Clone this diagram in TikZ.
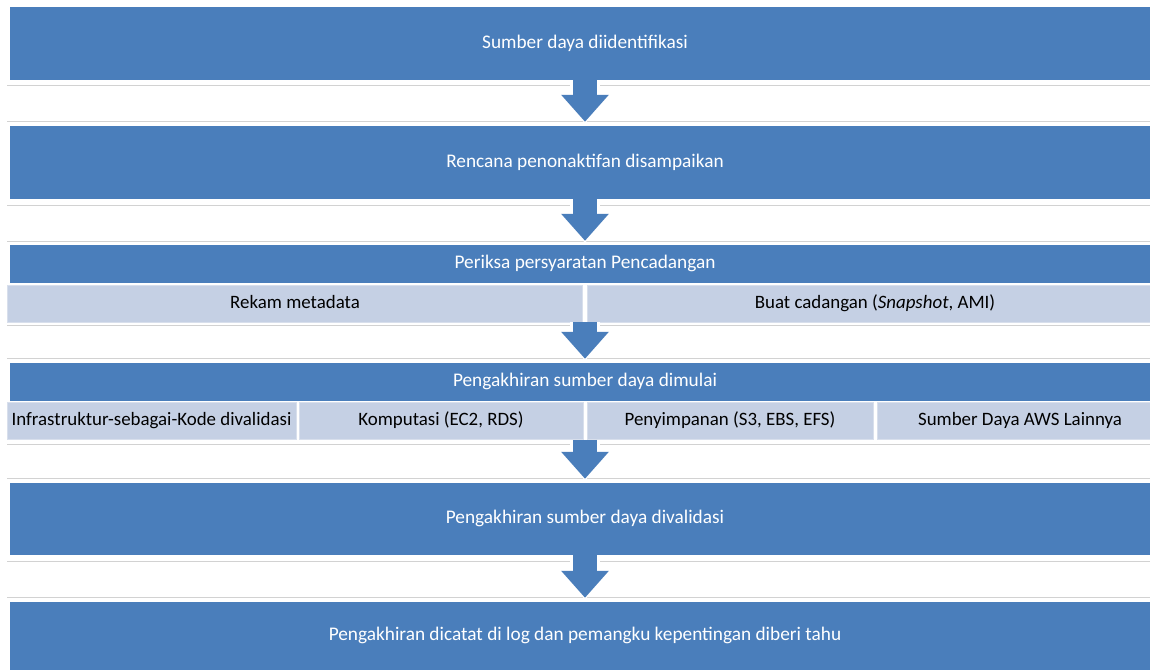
\documentclass[tikz,border=0pt]{standalone}
\usepackage{fontspec}
\setmainfont{Carlito}
\usepackage{tikz}
\usetikzlibrary{arrows.meta,positioning}
\definecolor{stepblue}{HTML}{4A7EBB}
\definecolor{subfill}{HTML}{C5D0E4}
\definecolor{subline}{HTML}{D8DFEC}
\definecolor{gapline}{HTML}{D2D2D2}

\begin{document}
\begin{tikzpicture}[inner sep=0pt,x=1pt,y=-1pt]
  \useasboundingbox(0,0)rectangle(1150,670);
  \tikzstyle{blk}=[rectangle,fill=stepblue,text=white,minimum width=1150pt,text height=0.7em,text depth=0.22em]
  \tikzstyle{sub}=[rectangle,fill=subfill,draw=subline,line width=0.8pt,text=black,minimum height=37pt,text height=0.7em,text depth=0.22em,font=\fontsize{18.9}{23}\selectfont]\fontsize{19.3}{23}\selectfont
  % faint rules above and below each gap
  \foreach\t/\b in{85/121,205/241,325/358,444/478,561/597}{
    \draw[gapline,line width=0.8pt](7,\t)--(1163,\t);
    \draw[gapline,line width=0.8pt](7,\b)--(1163,\b);}
  \node[blk,minimum height=73pt](sumber)at(585,43.5){Sumber daya diidentifikasi};
  \node[blk,minimum height=73pt](rencana)at(585,162.5){Rencana penonaktifan disampaikan};
  \node[blk,minimum height=38pt](periksa)at(585,264){Periksa persyaratan Pencadangan};
  \node[sub,minimum width=575pt](rekam)at(295,303.5){Rekam metadata};
  \node[sub,minimum width=575pt](buat)at(875,303.5){Buat cadangan (\textit{Snapshot}, AMI)};
  \node[blk,minimum height=38pt](mulai)at(585,382){Pengakhiran sumber daya dimulai};
  \node[sub,minimum width=289pt](iac)at(151.5,421){Infrastruktur-sebagai-Kode divalidasi};
  \node[sub,minimum width=284pt](komputasi)at(441,421){Komputasi (EC2, RDS)};
  \node[sub,minimum width=286pt](simpan)at(730,421){Penyimpanan (S3, EBS, EFS)};
  \node[sub,minimum width=286pt](lain)at(1020,421){Sumber Daya AWS Lainnya};
  \node[blk,minimum height=72pt](valid)at(585,519){Pengakhiran sumber daya divalidasi};
  \node[blk,minimum height=68pt](catat)at(585,636){Pengakhiran dicatat di log dan pemangku kepentingan diberi tahu};
  \tikzstyle{e}=[stepblue,line width=24pt,-{Triangle[length=27pt,width=46pt]},shorten >=4pt,
    preaction={draw=white,line width=30pt,-{Triangle[length=31pt,width=54pt]},shorten >=2pt}]
  \foreach\o/\d in{sumber.south/rencana.north,rencana.south/periksa.north,
    rekam.south east -| mulai.north/mulai.north,komputasi.south east -| valid.north/valid.north,
    valid.south/catat.north}{\draw[e](\o)--(\d);}
\end{tikzpicture}
\end{document}
